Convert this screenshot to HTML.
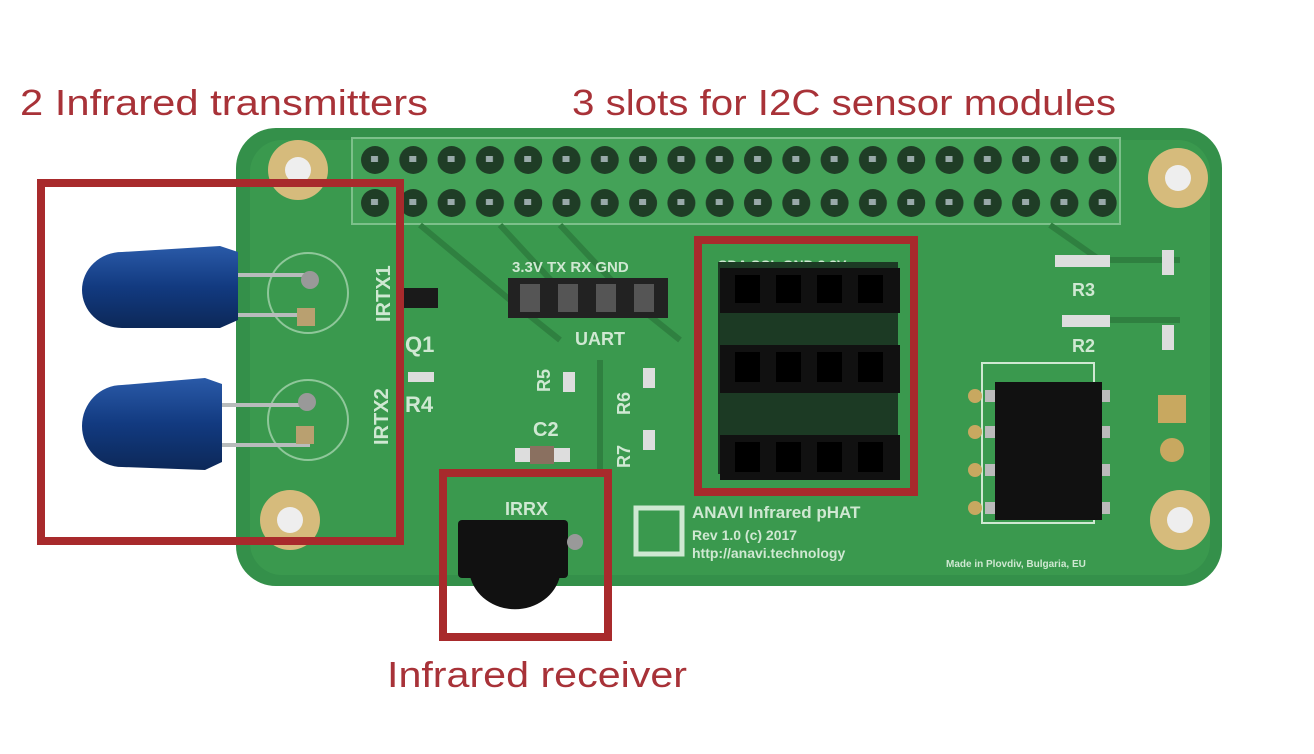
<!DOCTYPE html>
<html><head><meta charset="utf-8"><style>
html,body{margin:0;padding:0;background:#fff;width:1314px;height:754px;overflow:hidden}
svg{display:block}
text{font-family:"Liberation Sans",sans-serif}
</style></head><body>
<svg width="1314" height="754" viewBox="0 0 1314 754" xmlns="http://www.w3.org/2000/svg">
<defs>
<pattern id="pins" x="356" y="140" width="38.3" height="43" patternUnits="userSpaceOnUse">
<circle cx="19" cy="20" r="14" fill="#1f3d26"/><rect x="15" y="16" width="7" height="6" fill="#9aa"/>
</pattern>
<linearGradient id="led" x1="0" y1="0" x2="0" y2="1"><stop offset="0" stop-color="#2a5aa8"/><stop offset="0.5" stop-color="#123a80"/><stop offset="1" stop-color="#0c2858"/></linearGradient>
</defs>
<rect width="1314" height="754" fill="#fff"/>
<rect x="236" y="128" width="986" height="458" rx="40" fill="#34904a"/>
<rect x="250" y="140" width="960" height="435" rx="32" fill="#3a994e"/>
<rect x="352" y="138" width="768" height="86" fill="#44a258" stroke="#7cc08a" stroke-width="2"/>
<rect x="356" y="140" width="766" height="86" fill="url(#pins)"/>
<g fill="#d6bb7c"><circle cx="298" cy="170" r="30"/><circle cx="1178" cy="178" r="30"/><circle cx="290" cy="520" r="30"/><circle cx="1180" cy="520" r="30"/></g>
<g fill="#eee"><circle cx="298" cy="170" r="13"/><circle cx="1178" cy="178" r="13"/><circle cx="290" cy="520" r="13"/><circle cx="1180" cy="520" r="13"/></g>
<g stroke="#2f8040" stroke-width="6" fill="none">
<path d="M420 225 L510 300 L560 340"/><path d="M500 225 L560 290"/><path d="M560 225 L630 300 L680 340"/>
<path d="M1050 225 L1100 260 L1180 260"/><path d="M1100 320 L1180 320"/>
<path d="M600 360 L600 470"/>
</g>
<circle cx="308" cy="293" r="40" fill="none" stroke="#8fc79a" stroke-width="2"/>
<circle cx="308" cy="420" r="40" fill="none" stroke="#8fc79a" stroke-width="2"/>
<g stroke="#b8bcbc" stroke-width="4"><line x1="225" y1="275" x2="312" y2="275"/><line x1="225" y1="315" x2="310" y2="315"/><line x1="210" y1="405" x2="310" y2="405"/><line x1="210" y1="445" x2="310" y2="445"/></g>
<circle cx="310" cy="280" r="9" fill="#999"/><rect x="297" y="308" width="18" height="18" fill="#b9a070"/>
<circle cx="307" cy="402" r="9" fill="#999"/><rect x="296" y="426" width="18" height="18" fill="#b9a070"/>
<path d="M122 252 L220 246 L238 252 L238 320 L220 328 L122 328 A40 38 0 0 1 122 252Z" fill="url(#led)"/>
<path d="M122 385 L205 378 L222 384 L222 462 L205 470 L122 467 A40 41 0 0 1 122 385Z" fill="url(#led)"/>
<g fill="#cfe8d2" font-weight="bold" font-size="20">
<text x="0" y="0" transform="translate(390,322) rotate(-90)">IRTX1</text>
<text x="0" y="0" transform="translate(388,445) rotate(-90)">IRTX2</text>
<text x="405" y="352" font-size="22">Q1</text><text x="405" y="412" font-size="22">R4</text>
<text x="512" y="272" font-size="15">3.3V TX  RX GND</text>
<text x="575" y="345" font-size="18">UART</text>
<text x="533" y="436" font-size="20">C2</text>
<text x="505" y="515" font-size="18">IRRX</text>
<text x="718" y="270" font-size="14">SDA SCL GND 3.3V</text>
<text x="692" y="518" font-size="17">ANAVI Infrared pHAT</text>
<text x="692" y="540" font-size="14">Rev 1.0 (c) 2017</text>
<text x="692" y="558" font-size="14">http://anavi.technology</text>
<text x="946" y="567" font-size="10">Made in Plovdiv, Bulgaria, EU</text>
<text x="1072" y="296" font-size="18">R3</text><text x="1072" y="352" font-size="18">R2</text>
<text x="0" y="0" transform="translate(550,392) rotate(-90)" font-size="18">R5</text>
<text x="0" y="0" transform="translate(630,415) rotate(-90)" font-size="18">R6</text>
<text x="0" y="0" transform="translate(630,468) rotate(-90)" font-size="18">R7</text>
</g>
<rect x="636" y="508" width="46" height="46" fill="none" stroke="#cfe8d2" stroke-width="5"/>
<rect x="402" y="288" width="36" height="20" fill="#1a1a1a"/>
<g fill="#ddd"><rect x="408" y="372" width="26" height="10"/><rect x="563" y="372" width="12" height="20"/><rect x="643" y="368" width="12" height="20"/><rect x="643" y="430" width="12" height="20"/><rect x="515" y="448" width="55" height="14"/><rect x="1055" y="255" width="55" height="12"/><rect x="1062" y="315" width="48" height="12"/><rect x="1162" y="250" width="12" height="25"/><rect x="1162" y="325" width="12" height="25"/></g>
<rect x="530" y="446" width="24" height="18" fill="#8a7060"/>
<rect x="508" y="278" width="160" height="40" fill="#222"/>
<g fill="#555"><rect x="520" y="284" width="20" height="28"/><rect x="558" y="284" width="20" height="28"/><rect x="596" y="284" width="20" height="28"/><rect x="634" y="284" width="20" height="28"/></g>
<rect x="718" y="262" width="180" height="212" fill="#1c3a24"/>
<g fill="#111"><rect x="720" y="268" width="180" height="45"/><rect x="720" y="345" width="180" height="48"/><rect x="720" y="435" width="180" height="45"/></g>
<g fill="#000"><rect x="735" y="275" width="25" height="28"/><rect x="776" y="275" width="25" height="28"/><rect x="817" y="275" width="25" height="28"/><rect x="858" y="275" width="25" height="28"/>
<rect x="735" y="352" width="25" height="30"/><rect x="776" y="352" width="25" height="30"/><rect x="817" y="352" width="25" height="30"/><rect x="858" y="352" width="25" height="30"/>
<rect x="735" y="442" width="25" height="30"/><rect x="776" y="442" width="25" height="30"/><rect x="817" y="442" width="25" height="30"/><rect x="858" y="442" width="25" height="30"/></g>
<rect x="982" y="363" width="112" height="160" fill="none" stroke="#cfe8d2" stroke-width="2"/>
<g fill="#c8a860"><circle cx="975" cy="396" r="7"/><circle cx="975" cy="432" r="7"/><circle cx="975" cy="470" r="7"/><circle cx="975" cy="508" r="7"/></g>
<g fill="#bbb"><rect x="985" y="390" width="10" height="12"/><rect x="985" y="426" width="10" height="12"/><rect x="985" y="464" width="10" height="12"/><rect x="985" y="502" width="10" height="12"/><rect x="1100" y="390" width="10" height="12"/><rect x="1100" y="426" width="10" height="12"/><rect x="1100" y="464" width="10" height="12"/><rect x="1100" y="502" width="10" height="12"/></g>
<rect x="995" y="382" width="107" height="138" fill="#111"/>
<rect x="1158" y="395" width="28" height="28" fill="#c8a860"/><circle cx="1172" cy="450" r="12" fill="#c8a860"/>
<rect x="458" y="520" width="110" height="58" fill="#111" rx="4"/>
<path d="M470 576 A46 42 0 0 0 560 576Z" fill="#111"/>
<circle cx="575" cy="542" r="8" fill="#999"/>
<g fill="none" stroke="#a82a2c" stroke-width="8">
<rect x="41" y="183" width="359" height="358"/>
<rect x="698" y="240" width="216" height="252"/>
<rect x="443" y="473" width="165" height="164"/>
</g>
<g fill="#a83238" font-size="36">
<text x="20" y="115" textLength="408" lengthAdjust="spacingAndGlyphs">2 Infrared transmitters</text>
<text x="572" y="115" textLength="544" lengthAdjust="spacingAndGlyphs">3 slots for I2C sensor modules</text>
<text x="387" y="687" textLength="300" lengthAdjust="spacingAndGlyphs">Infrared receiver</text>
</g>
</svg>
</body></html>
